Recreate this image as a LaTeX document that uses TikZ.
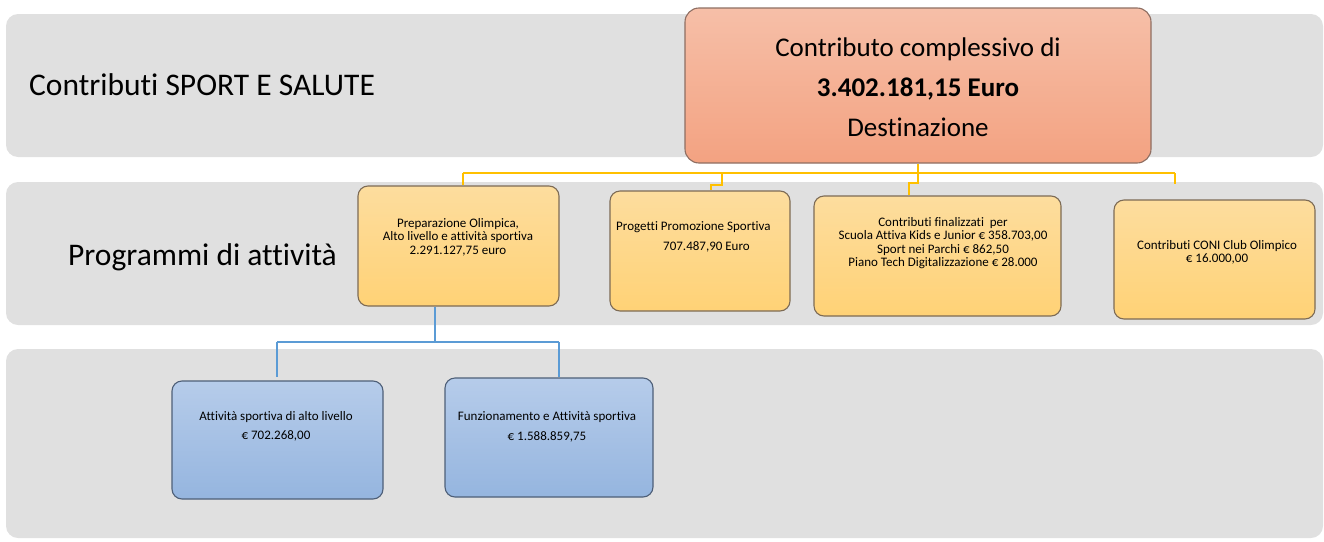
\documentclass[tikz,border=0pt]{standalone}
\usepackage{fontspec}
\setmainfont{Carlito}[Ligatures=CommonOff]
\definecolor{bandgray}{HTML}{E0E0E0}
\definecolor{redtop}{HTML}{F6BFA8}
\definecolor{redbot}{HTML}{F3A281}
\definecolor{redline}{HTML}{8E6E62}
\definecolor{yeltop}{HTML}{FDDD9E}
\definecolor{yelbot}{HTML}{FFD276}
\definecolor{yelline}{HTML}{7D6B55}
\definecolor{bluetop}{HTML}{B6CCEA}
\definecolor{bluebot}{HTML}{95B5DF}
\definecolor{blueline}{HTML}{4E5F78}
\definecolor{yconn}{HTML}{FFC000}
\definecolor{bconn}{HTML}{5B9BD5}
\begin{document}
\begin{tikzpicture}[x=1pt,y=-1pt,
  band/.style={fill=bandgray, draw=none, rounded corners=12pt},
  redbox/.style={draw=redline, line width=1.1pt, rounded corners=14pt, top color=redtop, bottom color=redbot, inner sep=0pt},
  yelbox/.style={draw=yelline, line width=1.1pt, rounded corners=10pt, top color=yeltop, bottom color=yelbot, inner sep=0pt},
  bluebox/.style={draw=blueline, line width=1.1pt, rounded corners=10pt, top color=bluetop, bottom color=bluebot, inner sep=0pt},
  txt/.style={inner sep=0pt, align=center},
  yc/.style={draw=yconn, line width=2.4pt},
  bc/.style={draw=bconn, line width=2.4pt}]
\useasboundingbox (0,0) rectangle (1324,541);
% bands
\fill[band] (6,14) rectangle (1323,157);
\fill[band] (6,182) rectangle (1323,325);
\fill[band] (6,349) rectangle (1323,538);
\node[txt, anchor=west, font=\fontsize{31.5}{36}\selectfont] (t1) at (29,85) {Contributi SPORT E SALUTE};
\node[txt, anchor=west, font=\fontsize{31.5}{36}\selectfont] (t2) at (68,257) {Programmi di attività};
% connector points
\coordinate (hl) at (463,173);
\coordinate (hr) at (1175,173);
\coordinate (cend) at (1175,184);
% boxes
\node[redbox, minimum width=466pt, minimum height=155pt] (top) at (918,85.5) {};
\node[txt, font=\fontsize{27}{40}\selectfont] (toptxt) at (918,87) {Contributo complessivo di\\ \textbf{3.402.181,15 Euro}\\ Destinazione};
\node[yelbox, minimum width=201pt, minimum height=120pt] (p1) at (458.5,246) {};
\node[txt, font=\fontsize{13}{13.5}\selectfont] (p1t) at (458,237) {Preparazione Olimpica,\\ Alto livello e attività sportiva\\ 2.291.127,75 euro};
\node[yelbox, minimum width=180pt, minimum height=120pt] (p2) at (700,251) {};
\node[txt, align=left, anchor=west, font=\fontsize{13}{20}\selectfont] (p2t) at (616,237) {Progetti Promozione Sportiva\\ \hspace*{47pt}707.487,90 Euro};
\node[yelbox, minimum width=247pt, minimum height=120pt] (p3) at (937.5,256) {};
\node[txt, font=\fontsize{13}{13.3}\selectfont] (p3t) at (943,243) {Contributi finalizzati\ \ per\\ Scuola Attiva Kids e Junior € 358.703,00\\ Sport nei Parchi € 862,50\\ Piano Tech Digitalizzazione € 28.000};
\node[yelbox, minimum width=201pt, minimum height=119pt] (p4) at (1214.5,259.5) {};
\node[txt, font=\fontsize{13}{13}\selectfont] (p4t) at (1217,252.5) {Contributi CONI Club Olimpico\\ € 16.000,00};
\node[bluebox, minimum width=211pt, minimum height=118pt] (a) at (277.5,440) {};
\node[txt, font=\fontsize{13}{19}\selectfont] (at) at (276,426.5) {Attività sportiva di alto livello\\ € 702.268,00};
\node[bluebox, minimum width=208pt, minimum height=119pt] (b) at (549,437.5) {};
\node[txt, font=\fontsize{13}{20}\selectfont] (bt) at (547,427) {Funzionamento e Attività sportiva\\ € 1.588.859,75};
% yellow connectors
\draw[yc] (hl) -- (hr);
\draw[yc] (top.south) -- (918,183) -- (909,183) -- (909,0 |- p3.north);
\draw[yc] (hl) -- (hl |- p1.north);
\draw[yc] (722,173) -- (722,185) -- (711,185) -- (711,0 |- p2.north);
\draw[yc] (hr) -- (cend);
% blue connectors
\draw[bc] (435,0 |- p1.south) -- (435,342);
\draw[bc] (277,342) -- (559,342);
\draw[bc] (277,342) -- (277,377);
\draw[bc] (559,342) -- (559,0 |- b.north);
\end{tikzpicture}
\end{document}
